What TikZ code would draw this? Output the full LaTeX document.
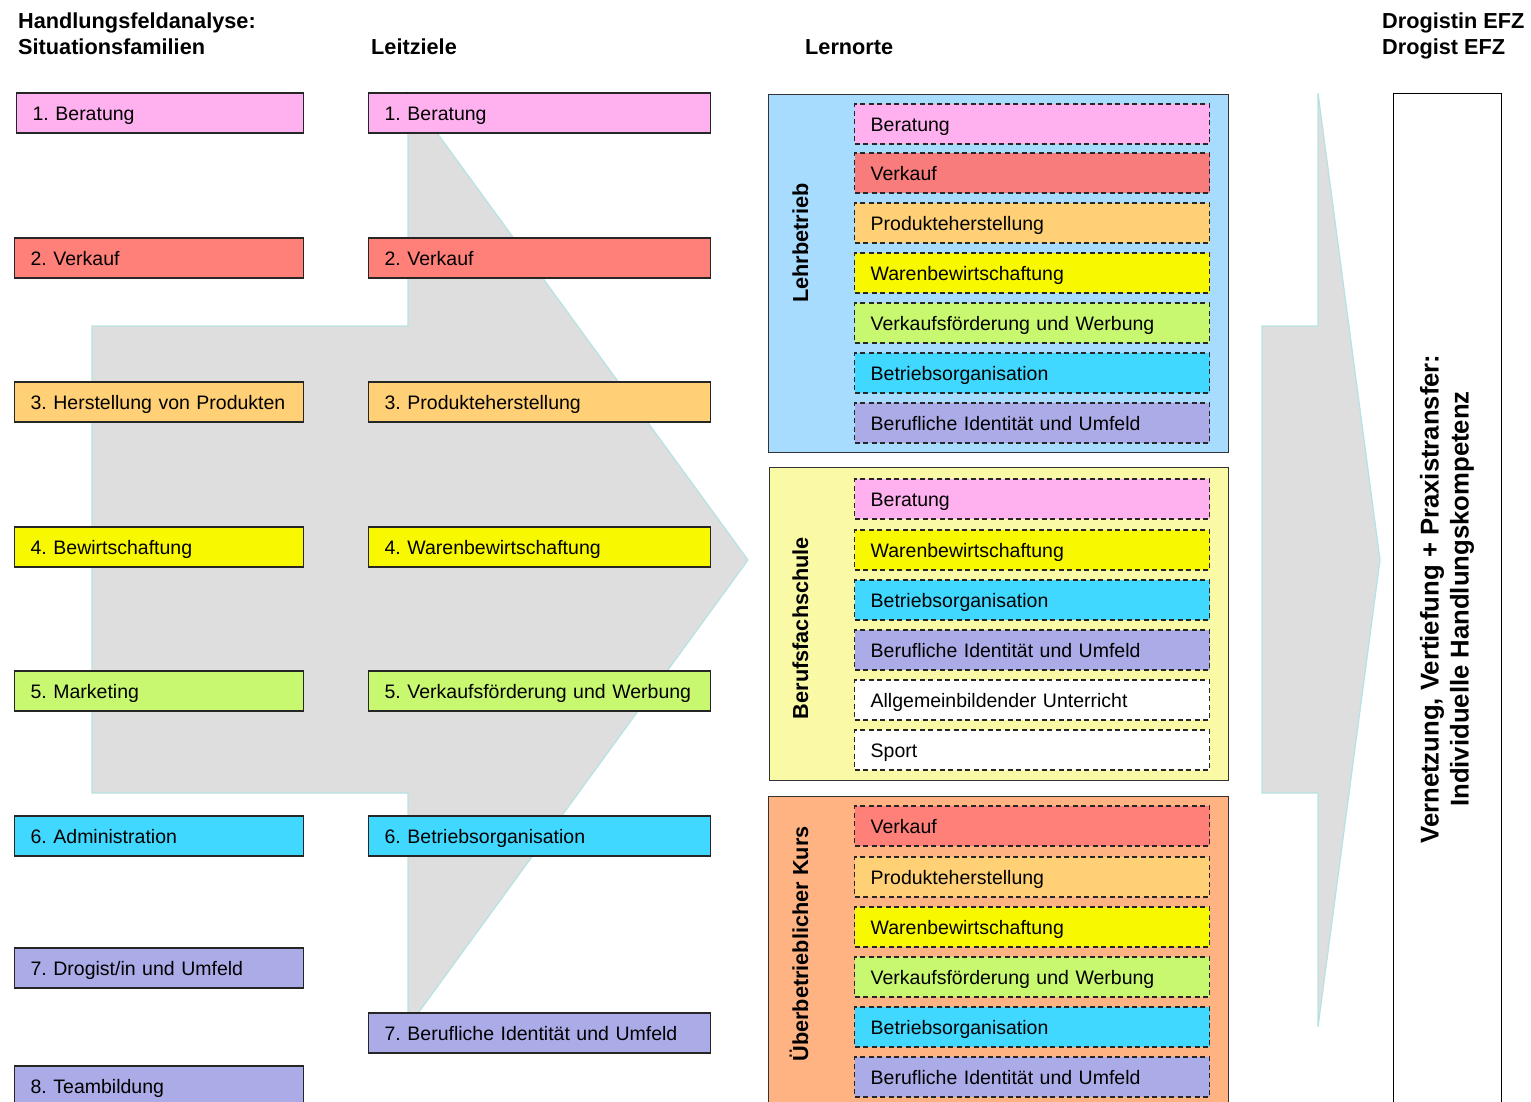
\documentclass[tikz,border=0pt]{standalone}
\usepackage{fontspec}
\setmainfont{Liberation Sans}
\definecolor{pinkc}{HTML}{FFB0EE}
\definecolor{redc}{HTML}{FF7F79}
\definecolor{redi}{HTML}{F87C7C}
\definecolor{orangec}{HTML}{FFD075}
\definecolor{yellowc}{HTML}{F8F800}
\definecolor{greenc}{HTML}{C8F870}
\definecolor{cyanc}{HTML}{40D8FF}
\definecolor{lavc}{HTML}{ABABE8}
\definecolor{lehrbg}{HTML}{A8DCFF}
\definecolor{bfsbg}{HTML}{FAFAA6}
\definecolor{uekbg}{HTML}{FFB383}
\definecolor{arrowgray}{HTML}{DEDEDE}
\definecolor{arrowline}{HTML}{B5E3E3}
\tikzset{
  fam/.style={draw=black!85, line width=1.3pt, fill=#1, minimum height=40pt,
    inner xsep=16pt, inner ysep=0pt, align=left, anchor=west,
    font=\fontsize{19.5}{23}\selectfont,
    text height=14.5pt, text depth=0pt},
  famL/.style={fam=#1, text width=257pt},
  famF/.style={fam=#1, text width=255pt},
  famM/.style={fam=#1, text width=310pt},
  sub/.style={fam=#1, dash pattern=on 5pt off 3.5pt, text width=323pt},
  hdr/.style={font=\fontsize{21.7}{26}\selectfont\bfseries, anchor=base west, inner sep=0pt},
  place/.style={draw=black!80, line width=1.3pt, anchor=north west, inner sep=0pt},
  vlabel/.style={font=\fontsize{21.7}{26}\selectfont\bfseries, rotate=90, anchor=base, inner sep=0pt},
  arrowshape/.style={fill=arrowgray, draw=arrowline, line width=1.2pt}
}
\frenchspacing
\hyphenpenalty=10000
\exhyphenpenalty=10000
\begin{document}
\begin{tikzpicture}[x=1pt,y=-1pt]
\useasboundingbox (0,0) rectangle (1531,1101);
\begin{scope}
\clip (0,0) rectangle (1531,1101);
% big arrows
\filldraw[arrowshape] (92,326) -- (408,326) -- (408,93) -- (748,560) -- (408,1027) -- (408,793) -- (92,793) -- cycle;
\filldraw[arrowshape] (1262,326) -- (1318,326) -- (1318,93) -- (1380,560) -- (1318,1027) -- (1318,793) -- (1262,793) -- cycle;

% headers
\node[hdr] (h1a) at (18,28) {Handlungsfeldanalyse:};
\node[hdr] (h1b) at (18,54) {Situationsfamilien};
\node[hdr] (h2) at (371,54) {Leitziele};
\node[hdr] (h3) at (805,54) {Lernorte};
\node[hdr] (h4a) at (1382,28) {Drogistin EFZ};
\node[hdr] (h4b) at (1382,54) {Drogist EFZ};

% Situationsfamilien
\node[famF=pinkc] (s1) at (16,113) {1. Beratung};
\node[famL=redc] (s2) at (14,258) {2. Verkauf};
\node[famL=orangec] (s3) at (14,402) {3. Herstellung von Produkten};
\node[famL=yellowc] (s4) at (14,547) {4. Bewirtschaftung};
\node[famL=greenc] (s5) at (14,691) {5. Marketing};
\node[famL=cyanc] (s6) at (14,836) {6. Administration};
\node[famL=lavc] (s7) at (14,968) {7. Drogist/in und Umfeld};
\node[famL=lavc] (s8) at (14,1086) {8. Teambildung};

% Leitziele
\node[famM=pinkc] (l1) at (368,113) {1. Beratung};
\node[famM=redc] (l2) at (368,258) {2. Verkauf};
\node[famM=orangec] (l3) at (368,402) {3. Produkteherstellung};
\node[famM=yellowc] (l4) at (368,547) {4. Warenbewirtschaftung};
\node[famM=greenc] (l5) at (368,691) {5. Verkaufsförderung und Werbung};
\node[famM=cyanc] (l6) at (368,836) {6. Betriebsorganisation};
\node[famM=lavc] (l7) at (368,1033) {7. Berufliche Identität und Umfeld};

% Lernorte containers
\node[place, fill=lehrbg, minimum width=460pt, minimum height=358pt] (lb) at (768,94) {};
\node[place, fill=bfsbg, minimum width=459pt, minimum height=313pt] (bfs) at (769,467) {};
\node[place, fill=uekbg, minimum width=460pt, minimum height=340pt] (uek) at (768,796) {};

\node[vlabel] (lbl) at (808,243) {Lehrbetrieb};
\node[vlabel] (bfsl) at (808,628) {Berufsfachschule};
\node[vlabel] (uekl) at (808,944) {Überbetrieblicher Kurs};

% Lehrbetrieb
\node[sub=pinkc] (a1) at (854,124) {Beratung};
\node[sub=redi] (a2) at (854,173) {Verkauf};
\node[sub=orangec] (a3) at (854,223) {Produkteherstellung};
\node[sub=yellowc] (a4) at (854,273) {Warenbewirtschaftung};
\node[sub=greenc] (a5) at (854,323) {Verkaufsförderung und Werbung};
\node[sub=cyanc] (a6) at (854,373) {Betriebsorganisation};
\node[sub=lavc] (a7) at (854,423) {Berufliche Identität und Umfeld};

% Berufsfachschule
\node[sub=pinkc] (b1) at (854,499) {Beratung};
\node[sub=yellowc] (b2) at (854,550) {Warenbewirtschaftung};
\node[sub=cyanc] (b3) at (854,600) {Betriebsorganisation};
\node[sub=lavc] (b4) at (854,650) {Berufliche Identität und Umfeld};
\node[sub=white] (b5) at (854,700) {Allgemeinbildender Unterricht};
\node[sub=white] (b6) at (854,750) {Sport};

% Ueberbetrieblicher Kurs
\node[sub=redc] (c1) at (854,826) {Verkauf};
\node[sub=orangec] (c2) at (854,877) {Produkteherstellung};
\node[sub=yellowc] (c3) at (854,927) {Warenbewirtschaftung};
\node[sub=greenc] (c4) at (854,977) {Verkaufsförderung und Werbung};
\node[sub=cyanc] (c5) at (854,1027) {Betriebsorganisation};
\node[sub=lavc] (c6) at (854,1077) {Berufliche Identität und Umfeld};

% right box
\node[draw=black, line width=1.3pt, anchor=north west, inner sep=0pt, minimum width=108pt, minimum height=1040pt] (rb) at (1393,93) {};
\node[font=\fontsize{25.7}{30}\selectfont\bfseries, rotate=90, align=center, inner sep=0pt] (rt) at (1447,599)
  {Vernetzung, Vertiefung + Praxistransfer:\\Individuelle Handlungskompetenz};
\end{scope}
\end{tikzpicture}
\end{document}
